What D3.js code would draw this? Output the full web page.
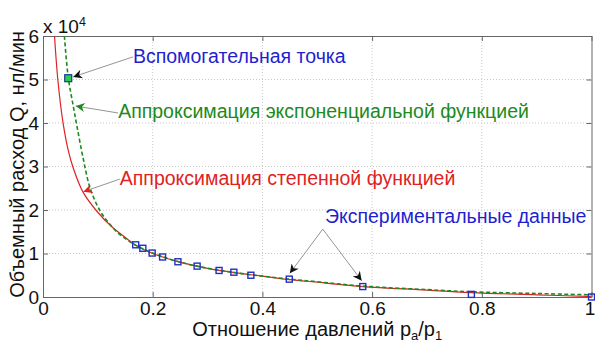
<!DOCTYPE html>
<html>
<head>
<meta charset="utf-8">
<script src="https://cdn.jsdelivr.net/npm/d3@7"></script>
<style>
  body { margin: 0; background: #fff; }
  text { font-family: "Liberation Sans", Arial, sans-serif; }
</style>
</head>
<body>
<div id="chart"></div>
<script>
// Tick labels
const X_TICKS = [0, 0.2, 0.4, 0.6, 0.8, 1];
const Y_TICKS = [0, 10000, 20000, 30000, 40000, 50000, 60000];

// Experimental data (pressure ratio pa/p1, flow Q in nl/min)
const EXP_X = [0.169, 0.182, 0.199, 0.218, 0.246, 0.281, 0.321, 0.348, 0.379, 0.449, 0.583, 0.781, 1.0];
const EXP_Q = [12000, 11200, 10100, 9200, 8100, 7100, 6100, 5700, 5000, 4100, 2400, 600, 0];

// Auxiliary point
const AUX_X = [0.046];
const AUX_Q = [50300];

// Power-function approximation (red)
const POW_X = [0.021, 0.027, 0.036, 0.046, 0.055, 0.073, 0.099, 0.125, 0.153, 0.169, 0.2, 0.25, 0.3, 0.35, 0.4, 0.45, 0.5, 0.583, 0.7, 0.78, 0.9, 1.0];
const POW_Q = [60000, 50000, 40500, 33700, 29700, 24100, 19600, 16200, 13400, 11900, 10000, 8000, 6600, 5600, 4800, 4000, 3400, 2400, 1600, 1000, 500, 100];

// Exponential-function approximation (green, dashed)
const EXPF_X = [0.039, 0.046, 0.055, 0.062, 0.073, 0.086, 0.104, 0.12, 0.137, 0.155, 0.169, 0.2, 0.25, 0.3, 0.35, 0.4, 0.45, 0.5, 0.583, 0.7, 0.78, 0.9, 1.0];
const EXPF_Q = [60000, 50500, 44000, 39200, 32000, 25000, 19800, 17000, 14700, 13000, 11900, 10100, 8000, 6600, 5600, 4800, 4100, 3500, 2500, 1700, 1200, 800, 500];

const margin = { top: 36, right: 3.5, bottom: 45, left: 43 };
const width = 595 - margin.left - margin.right;
const height = 342 - margin.top - margin.bottom;

const x = d3.scaleLinear().domain([0, 1]).range([0, width]);
const y = d3.scaleLinear().domain([0, 60000]).range([height, 0]);

const root = d3.select("#chart").append("svg")
    .attr("width", 595)
    .attr("height", 342);

const defs = root.append("defs");
defs.append("clipPath").attr("id", "plot-clip")
    .append("rect").attr("width", width).attr("height", height);

// arrowheads
for (const [id, col] of [["arr-black", "#111"], ["arr-green", "#1c8a1c"], ["arr-red", "#e02222"]]) {
    defs.append("marker")
        .attr("id", id)
        .attr("viewBox", "0 0 10 10")
        .attr("refX", 10).attr("refY", 5)
        .attr("markerUnits", "userSpaceOnUse")
        .attr("markerWidth", 10).attr("markerHeight", 9)
        .attr("orient", "auto")
        .append("path")
        .attr("d", "M0,0 L10,5 L0,10 L3,5 Z")
        .attr("fill", col);
}

const svg = root.append("g")
    .attr("transform", "translate(" + margin.left + "," + margin.top + ")");

// grid
svg.append("g")
    .selectAll("line")
    .data(X_TICKS.slice(1, -1))
    .join("line")
    .attr("x1", d => x(d)).attr("x2", d => x(d))
    .attr("y1", 0).attr("y2", height)
    .attr("stroke", "#c8c8c8").attr("stroke-dasharray", "1,2");

svg.append("g")
    .selectAll("line")
    .data(Y_TICKS.slice(1, -1))
    .join("line")
    .attr("x1", 0).attr("x2", width)
    .attr("y1", d => y(d)).attr("y2", d => y(d))
    .attr("stroke", "#c8c8c8").attr("stroke-dasharray", "1,2");

// axes (MATLAB style, ticks pointing inward on all four sides)
const axisStyle = g => {
    g.select(".domain").attr("stroke", "#666");
    g.selectAll(".tick line").attr("stroke", "#666");
    g.selectAll("text").attr("font-size", "19px").attr("fill", "#111");
};

const xAxis = svg.append("g")
    .attr("transform", "translate(0," + height + ")")
    .call(d3.axisBottom(x).tickValues(X_TICKS).tickFormat(d3.format("")).tickSizeInner(-5).tickSizeOuter(0).tickPadding(5))
    .call(axisStyle);
// keep the last label inside the window
xAxis.selectAll(".tick text").filter(d => d === 1).attr("dx", -2);

svg.append("g")
    .call(d3.axisTop(x).tickValues(X_TICKS).tickFormat("").tickSizeInner(-5).tickSizeOuter(0))
    .call(axisStyle);

svg.append("g")
    .call(d3.axisLeft(y).tickValues(Y_TICKS).tickFormat(d => d / 10000).tickSizeInner(-5).tickSizeOuter(0).tickPadding(4))
    .call(axisStyle);

svg.append("g")
    .attr("transform", "translate(" + width + ",0)")
    .call(d3.axisRight(y).tickValues(Y_TICKS).tickFormat("").tickSizeInner(-5).tickSizeOuter(0))
    .call(axisStyle);

// exponent label
const expo = svg.append("text")
    .attr("x", 0).attr("y", -3)
    .attr("font-size", "19px").attr("fill", "#111");
expo.append("tspan").text("x 10");
expo.append("tspan").attr("font-size", "12.5px").attr("dy", -7).text("4");

// curves
const plot = svg.append("g").attr("clip-path", "url(#plot-clip)");

const line = d3.line()
    .x(d => x(d[0]))
    .y(d => y(d[1]))
    .curve(d3.curveCatmullRom.alpha(0.5));

plot.append("path")
    .datum(d3.zip(POW_X, POW_Q))
    .attr("fill", "none")
    .attr("stroke", "#e02222")
    .attr("stroke-width", 1.2)
    .attr("d", line);

plot.append("path")
    .datum(d3.zip(EXPF_X, EXPF_Q))
    .attr("fill", "none")
    .attr("stroke", "#1c8a1c")
    .attr("stroke-width", 1.6)
    .attr("stroke-dasharray", "4,2.5")
    .attr("d", line);

// experimental points
svg.append("g")
    .selectAll("rect")
    .data(d3.zip(EXP_X, EXP_Q))
    .join("rect")
    .attr("x", d => x(d[0]) - 3)
    .attr("y", d => y(d[1]) - 3)
    .attr("width", 6).attr("height", 6)
    .attr("fill", "none")
    .attr("stroke", "#2030c0")
    .attr("stroke-width", 1.4);

// auxiliary point
svg.append("g")
    .selectAll("rect")
    .data(d3.zip(AUX_X, AUX_Q))
    .join("rect")
    .attr("x", d => x(d[0]) - 3.5)
    .attr("y", d => y(d[1]) - 3.5)
    .attr("width", 7).attr("height", 7)
    .attr("fill", "#2ccc55")
    .attr("stroke", "#1b3a8a")
    .attr("stroke-width", 1.2);

// annotations (anchors given in data units)
const arrow = (x1, q1, x2, q2, marker) => {
    svg.append("line")
        .attr("x1", x(x1)).attr("y1", y(q1))
        .attr("x2", x(x2)).attr("y2", y(q2))
        .attr("stroke", "#888")
        .attr("stroke-width", 0.9)
        .attr("marker-end", "url(#" + marker + ")");
};

const label = (x1, q1, str, col) => {
    svg.append("text")
        .attr("x", x(x1)).attr("y", y(q1))
        .attr("font-size", "19.5px")
        .attr("fill", col)
        .text(str);
};

arrow(0.164, 55200, 0.055, 50600, "arr-black");
label(0.164, 53800, "Вспомогательная точка", "#1f1fd0");

arrow(0.137, 42300, 0.0596, 43900, "arr-green");
label(0.137, 41100, "Аппроксимация экспоненциальной функцией", "#1c8a1c");

arrow(0.140, 27100, 0.0735, 24200, "arr-red");
label(0.140, 25700, "Аппроксимация степенной функцией", "#e02222");

arrow(0.51, 15600, 0.450, 5450, "arr-black");
arrow(0.51, 15600, 0.581, 3750, "arr-black");
label(0.514, 17000, "Экспериментальные данные", "#1f1fd0");

// axis titles
const xt = svg.append("text")
    .attr("x", width / 2).attr("y", height + 39)
    .attr("text-anchor", "middle")
    .attr("font-size", "20px").attr("fill", "#111");
xt.append("tspan").text("Отношение давлений p");
xt.append("tspan").attr("font-size", "13px").attr("dy", 4).text("a");
xt.append("tspan").attr("dy", -4).text("/p");
xt.append("tspan").attr("font-size", "13px").attr("dy", 4).text("1");

svg.append("text")
    .attr("transform", "translate(" + (-19) + "," + (height / 2 - 2) + ") rotate(-90)")
    .attr("text-anchor", "middle")
    .attr("font-size", "20px").attr("fill", "#111")
    .text("Объемный расход Q, нл/мин");
</script>
</body>
</html>
